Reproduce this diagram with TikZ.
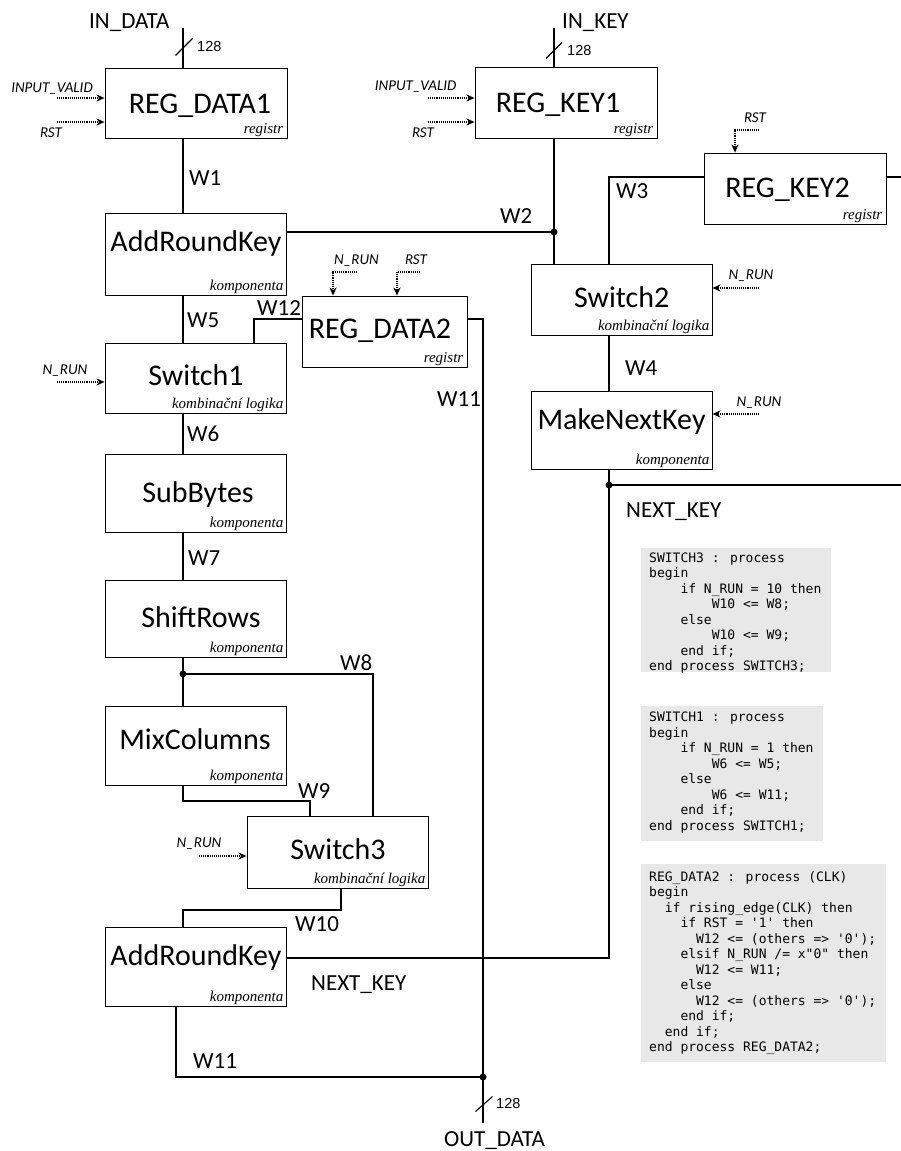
\documentclass[tikz,border=0pt]{standalone}
\usepackage{fontspec}
\usetikzlibrary{arrows.meta}
\newfontfamily\carl{Carlito}
\newfontfamily\lsans{Liberation Sans}
\newfontfamily\lserif{Liberation Serif}
\newfontfamily\dmono{DejaVu Sans Mono}
\newcommand\qq{\textquotesingle}
\begin{document}
\begin{tikzpicture}[x=1pt,y=-1pt,
  blk/.style={draw, line width=0.9pt, inner sep=0pt},
  mainlbl/.style={font=\carl\fontsize{30}{34}\selectfont, anchor=base, inner sep=0pt},
  typ/.style={font=\lserif\itshape\fontsize{15}{17}\selectfont, anchor=base east, inner sep=0pt},
  wl/.style={font=\carl\fontsize{23}{27}\selectfont, anchor=base west, inner sep=0pt},
  sig/.style={font=\carl\itshape\fontsize{15}{17}\selectfont, anchor=base, inner sep=0pt},
  bus/.style={font=\lsans\fontsize{14.5}{16}\selectfont, anchor=base west, inner sep=0pt},
  wire/.style={line width=1.1pt},
  ctl/.style={line width=1.1pt, densely dotted, -{Stealth[length=8pt,width=7pt,inset=2.5pt]}},
  dot/.style={circle, fill, inner sep=0pt, minimum size=7pt},
  code/.style={font=\dmono\fontsize{13}{15.5}\selectfont, align=left, anchor=north west, inner sep=0pt},
  codebg/.style={fill=black!9}
]
\useasboundingbox (0,0) rectangle (901,1151);

% ---------- boxes ----------
\node[blk, minimum width=182pt, minimum height=70pt] (rd1) at (196,103) {};
\node[blk, minimum width=182pt, minimum height=71pt] (rk1) at (566,102.5) {};
\node[blk, minimum width=182pt, minimum height=71pt] (rk2) at (795,188.5) {};
\node[blk, minimum width=181pt, minimum height=82pt] (ark1) at (195.5,254) {};
\node[blk, minimum width=165pt, minimum height=71pt] (rd2) at (384.5,331.5) {};
\node[blk, minimum width=181pt, minimum height=70pt] (sw1) at (195.5,378) {};
\node[blk, minimum width=181pt, minimum height=71pt] (sw2) at (621.5,299.5) {};
\node[blk, minimum width=181pt, minimum height=78pt] (mnk) at (621.5,430) {};
\node[blk, minimum width=181pt, minimum height=78pt] (sb) at (195.5,493) {};
\node[blk, minimum width=181pt, minimum height=77pt] (sr) at (195.5,618.5) {};
\node[blk, minimum width=181pt, minimum height=79pt] (mc) at (195.5,745.5) {};
\node[blk, minimum width=181pt, minimum height=72pt] (sw3) at (337.5,852) {};
\node[blk, minimum width=181pt, minimum height=79pt] (ark2) at (195.5,966.5) {};

% ---------- main labels ----------
\node[mainlbl] (rd1t) at (200,113) {REG\_DATA1};
\node[mainlbl] (rk1t) at (558,112) {REG\_KEY1};
\node[mainlbl] (rk2t) at (787.5,197) {REG\_KEY2};
\node[mainlbl] (ark1t) at (196,251) {AddRoundKey};
\node[mainlbl] (rd2t) at (380,338) {REG\_DATA2};
\node[mainlbl] (sw1t) at (196,385) {Switch1};
\node[mainlbl] (sw2t) at (621.7,307) {Switch2};
\node[mainlbl] (mnkt) at (621.5,429) {MakeNextKey};
\node[mainlbl] (sbt) at (198,502) {SubBytes};
\node[mainlbl] (srt) at (201,627) {ShiftRows};
\node[mainlbl] (mct) at (195,749) {MixColumns};
\node[mainlbl] (sw3t) at (338,859) {Switch3};
\node[mainlbl] (ark2t) at (196,965) {AddRoundKey};

% ---------- type labels ----------
\node[typ] (rd1k) at ([xshift=-4pt,yshift=5pt]rd1.south east) {registr};
\node[typ] (rk1k) at ([xshift=-4pt,yshift=5pt]rk1.south east) {registr};
\node[typ] (rk2k) at ([xshift=-4pt,yshift=5pt]rk2.south east) {registr};
\node[typ] (rd2k) at ([xshift=-4pt,yshift=5pt]rd2.south east) {registr};
\node[typ] (ark1k) at ([xshift=-3pt,yshift=5pt]ark1.south east) {komponenta};
\node[typ] (mnkk) at ([xshift=-3pt,yshift=5pt]mnk.south east) {komponenta};
\node[typ] (sbk) at ([xshift=-3pt,yshift=5pt]sb.south east) {komponenta};
\node[typ] (srk) at ([xshift=-3pt,yshift=5pt]sr.south east) {komponenta};
\node[typ] (mck) at ([xshift=-3pt,yshift=5pt]mc.south east) {komponenta};
\node[typ] (ark2k) at ([xshift=-3pt,yshift=5pt]ark2.south east) {komponenta};
\node[typ] (sw1k) at ([xshift=-3pt,yshift=5pt]sw1.south east) {kombinační logika};
\node[typ] (sw2k) at ([xshift=-3pt,yshift=5pt]sw2.south east) {kombinační logika};
\node[typ] (sw3k) at ([xshift=-3pt,yshift=5pt]sw3.south east) {kombinační logika};

% ---------- coordinates ----------
\coordinate (inD) at (183,28);
\coordinate (inK) at (554,28);
\coordinate (j2) at (554,232);
\coordinate (c3) at (609,177);
\coordinate (rk2o) at (901,177);
\coordinate (jn) at (609,485);
\coordinate (nkE) at (901,485);
\coordinate (nkB) at (609,958);
\coordinate (c12) at (254,319);
\coordinate (c11) at (483,319);
\coordinate (jo) at (483,1077);
\coordinate (outD) at (483,1123);
\coordinate (j8) at (183,674);
\coordinate (c8) at (373,674);
\coordinate (c9a) at (183,801);
\coordinate (c9b) at (310,801);
\coordinate (c10a) at (341,910);
\coordinate (c10b) at (183,910);
\coordinate (c11b) at (176,1077);

% ---------- wires ----------
\draw[wire] (inD) -- (inD |- rd1.north);
\draw[wire] (inK) -- (inK |- rk1.north);
\draw[wire] (rd1.south -| inD) -- (ark1.north -| inD);
\draw[wire] (rk1.south -| inK) -- (j2) -- (j2 |- sw2.north);
\draw[wire] (j2 -| ark1.east) -- (j2);
\draw[wire] (sw2.north -| c3) -- (c3) -- (c3 -| rk2.west);
\draw[wire] (c3 -| rk2.east) -- (rk2o);
\draw[wire] (sw2.south -| c3) -- (mnk.north -| c3);
\draw[wire] (mnk.south -| jn) -- (jn) -- (nkE);
\draw[wire] (jn) -- (nkB) -- (nkB -| ark2.east);
\draw[wire] (ark1.south -| inD) -- (sw1.north -| inD);
\draw[wire] (sw1.north -| c12) -- (c12) -- (c12 -| rd2.west);
\draw[wire] (c11 -| rd2.east) -- (c11) -- (jo) -- (outD);
\draw[wire] (sw1.south -| inD) -- (sb.north -| inD);
\draw[wire] (sb.south -| inD) -- (sr.north -| inD);
\draw[wire] (sr.south -| inD) -- (j8) -- (mc.north -| inD);
\draw[wire] (j8) -- (c8) -- (c8 |- sw3.north);
\draw[wire] (mc.south -| inD) -- (c9a) -- (c9b) -- (c9b |- sw3.north);
\draw[wire] (sw3.south -| c10a) -- (c10a) -- (c10b) -- (c10b |- ark2.north);
\draw[wire] (ark2.south -| c11b) -- (c11b) -- (jo);

\node[dot] (d2) at (j2) {};
\node[dot] (dn) at (jn) {};
\node[dot] (d8) at (j8) {};
\node[dot] (do) at (jo) {};

% ---------- bus markers ----------
\coordinate (bsD) at (184,47);
\coordinate (bsK) at (554,50.5);
\coordinate (bsO) at (484,1104);
\draw[wire] ([shift={(-8.5pt,-8.5pt)}]bsD) -- ([shift={(8.5pt,8.5pt)}]bsD);
\draw[wire] ([shift={(-8pt,-8pt)}]bsK) -- ([shift={(8pt,8pt)}]bsK);
\draw[wire] ([shift={(-8.5pt,-7.5pt)}]bsO) -- ([shift={(8.5pt,7.5pt)}]bsO);
\node[bus] (bD) at (197,51) {128};
\node[bus] (bK) at (567,55) {128};
\node[bus] (bO) at (496,1108) {128};

% ---------- port labels ----------
\node[wl] (lin) at (89,28) {IN\_DATA};
\node[wl] (lik) at (562,28) {IN\_KEY};
\node[wl] (lout) at (444,1146) {OUT\_DATA};
\node[wl] (w1) at (189,185.5) {W1};
\node[wl] (w2) at (500,223.5) {W2};
\node[wl] (w3) at (616,198) {W3};
\node[wl] (w4) at (625,375) {W4};
\node[wl] (w5) at (187,327) {W5};
\node[wl] (w6) at (187,441) {W6};
\node[wl] (w7) at (188,565) {W7};
\node[wl] (w8) at (340,670) {W8};
\node[wl] (w9) at (298,798) {W9};
\node[wl] (w10) at (295,931) {W10};
\node[wl] (w11a) at (437,406) {W11};
\node[wl] (w11b) at (193,1068) {W11};
\node[wl] (w12) at (257,315) {W12};
\node[wl] (nk1) at (626,517) {NEXT\_KEY};
\node[wl] (nk2) at (311,990) {NEXT\_KEY};

% ---------- control signals ----------
\coordinate (iv1) at (57,98);
\coordinate (rs1) at (57,122);
\coordinate (iv2) at (428,98);
\coordinate (rs2) at (428,122);
\coordinate (rs3) at (759,130);
\coordinate (rs3c) at (735,130);
\coordinate (nr2) at (759,288);
\coordinate (nr3) at (759,414);
\coordinate (nr1) at (57,382);
\coordinate (nr4) at (357,272);
\coordinate (nr4c) at (333,272);
\coordinate (rs4) at (420,272);
\coordinate (rs4c) at (397,272);
\coordinate (nr5) at (199,856);
\draw[ctl] (iv1) -- (iv1 -| rd1.west);
\draw[ctl] (rs1) -- (rs1 -| rd1.west);
\draw[ctl] (iv2) -- (iv2 -| rk1.west);
\draw[ctl] (rs2) -- (rs2 -| rk1.west);
\draw[ctl] (rs3) -- (rs3c) -- (rs3c |- rk2.north);
\draw[ctl] (nr2) -- (nr2 -| sw2.east);
\draw[ctl] (nr3) -- (nr3 -| mnk.east);
\draw[ctl] (nr1) -- (nr1 -| sw1.west);
\draw[ctl] (nr4) -- (nr4c) -- (nr4c |- rd2.north);
\draw[ctl] (rs4) -- (rs4c) -- (rs4c |- rd2.north);
\draw[ctl] (nr5) -- (nr5 -| sw3.west);
\node[sig] (s1) at (52,92) {INPUT\_VALID};
\node[sig] (s2) at (51,137) {RST};
\node[sig] (s3) at (415.6,90) {INPUT\_VALID};
\node[sig] (s4) at (423,137) {RST};
\node[sig] (s5) at (755,122) {RST};
\node[sig] (s6) at (751,279) {N\_RUN};
\node[sig] (s7) at (759,406) {N\_RUN};
\node[sig] (s8) at (65,374) {N\_RUN};
\node[sig] (s9) at (356.5,264) {N\_RUN};
\node[sig] (s10) at (416,264) {RST};
\node[sig] (s11) at (199,847) {N\_RUN};

% ---------- code blocks ----------
\fill[codebg] (641,548) rectangle (831,672);
\fill[codebg] (641,706) rectangle (823,841);
\fill[codebg] (641,864) rectangle (886,1062);
\node[code] (code1) at (649,552.5) {SWITCH3 : process\\
begin\\
~~~~if N\_RUN = 10 then\\
~~~~~~~~W10 <= W8;\\
~~~~else\\
~~~~~~~~W10 <= W9;\\
~~~~end if;\\
end process SWITCH3;};
\node[code] (code2) at (649,712) {SWITCH1 : process\\
begin\\
~~~~if N\_RUN = 1 then\\
~~~~~~~~W6 <= W5;\\
~~~~else\\
~~~~~~~~W6 <= W11;\\
~~~~end if;\\
end process SWITCH1;};
\node[code] (code3) at (649,871) {REG\_DATA2 : process (CLK)\\
begin\\
~~if rising\_edge(CLK) then\\
~~~~if RST = \qq1\qq{} then\\
~~~~~~W12 <= (others => \qq0\qq);\\
~~~~elsif N\_RUN /= x"0" then\\
~~~~~~W12 <= W11;\\
~~~~else\\
~~~~~~W12 <= (others => \qq0\qq);\\
~~~~end if;\\
~~end if;\\
end process REG\_DATA2;};
\end{tikzpicture}
\end{document}
